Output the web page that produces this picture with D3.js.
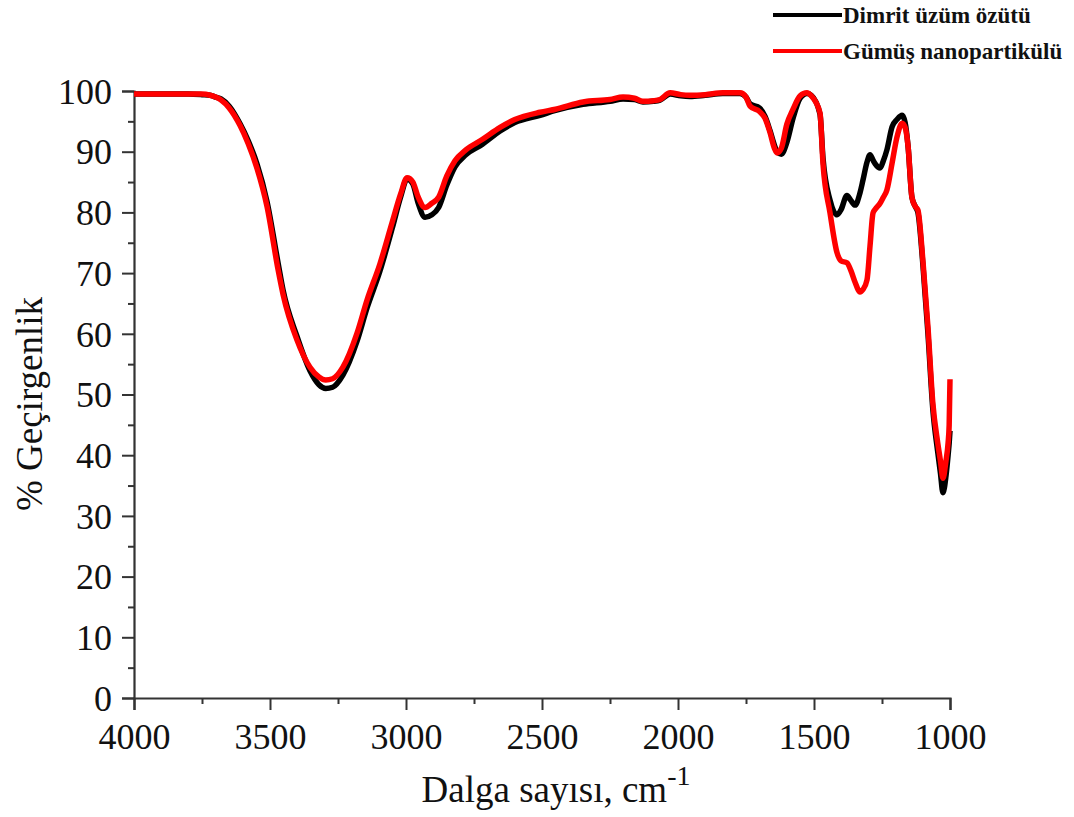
<!DOCTYPE html>
<html>
<head>
<meta charset="utf-8">
<script src="https://cdn.jsdelivr.net/npm/d3@7"></script>
<style>
  html, body { margin: 0; padding: 0; background: #fff; }
  svg { display: block; }
  text { font-family: "Liberation Serif", "Times New Roman", serif; }
</style>
</head>
<body>
<svg id="chart" width="1074" height="817"></svg>
<script>
// FTIR spectra: wavenumber (cm-1) vs. % transmittance
const wavenumbers = [
  4000, 3900, 3800, 3750, 3720, 3700, 3680, 3650, 3610, 3580, 3548, 3511, 3470, 3452,
  3401, 3353, 3320, 3295, 3270, 3232, 3180, 3143, 3096, 3050, 3020, 2996, 2975, 2955,
  2930, 2905, 2880, 2850, 2820, 2780, 2720, 2654, 2600, 2507, 2450, 2349, 2250, 2202,
  2160, 2129, 2090, 2066, 2029, 1990, 1956, 1900, 1835, 1772, 1750, 1735, 1700, 1680,
  1662, 1645, 1636, 1620, 1600, 1577, 1551, 1526, 1510, 1478, 1467, 1441, 1415, 1400,
  1379, 1365, 1349, 1331, 1320, 1305, 1294, 1283, 1275, 1257, 1245, 1232, 1213, 1195,
  1176, 1165, 1154, 1140, 1128, 1118, 1099, 1081, 1063, 1045, 1035, 1026, 1015, 1007,
  1003, 1000
];

const dimritValues = [
  99.5, 99.5, 99.5, 99.4, 99.3, 99.0, 98.7, 97.5, 94.6, 91.8, 88.0, 81.8, 71.6, 67.2,
  59.6, 53.9, 51.6, 51.0, 51.2, 53.2, 58.8, 64.3, 70.3, 77.5, 82.5, 85.5, 84.7, 81.5,
  79.2, 79.6, 80.8, 84.5, 87.5, 89.5, 91.2, 93.4, 94.8, 96.0, 96.8, 97.8, 98.3, 98.7,
  98.6, 98.2, 98.3, 98.5, 99.5, 99.2, 99.1, 99.3, 99.6, 99.6, 99.0, 97.9, 97.2, 95.8,
  93.5, 91.0, 90.0, 89.6, 91.5, 95.5, 98.8, 99.6, 99.3, 96.2, 89.0, 82.0, 79.6, 80.5,
  82.8, 82.0, 81.2, 83.2, 85.3, 88.3, 89.5, 88.6, 88.0, 87.3, 88.5, 90.3, 94.1, 95.3,
  96.0, 94.8, 90.8, 82.5, 81.0, 80.0, 71.0, 60.0, 47.5, 40.5, 37.0, 33.8, 36.5, 40.0,
  42.0, 44.0
];

const gumusValues = [
  99.5, 99.5, 99.5, 99.5, 99.3, 99.0, 98.5, 97.2, 94.3, 91.3, 87.3, 81.0, 70.5, 66.5,
  59.0, 54.5, 52.9, 52.4, 52.6, 54.5, 60.1, 65.6, 71.5, 78.5, 83.0, 85.7, 85.0, 82.5,
  80.8, 81.5, 82.5, 86.0, 88.5, 90.3, 92.0, 94.0, 95.3, 96.5, 97.0, 98.2, 98.6, 99.0,
  98.8, 98.3, 98.4, 98.6, 99.7, 99.4, 99.3, 99.4, 99.7, 99.7, 99.0, 97.5, 96.6, 95.5,
  93.2, 90.5, 89.8, 90.6, 94.5, 97.0, 99.2, 99.7, 99.2, 96.4, 88.1, 79.9, 73.3, 72.0,
  71.7, 70.5, 68.5, 66.9, 67.3, 68.9, 74.5, 79.9, 80.5, 81.5, 82.5, 83.7, 88.1, 92.4,
  94.7, 94.0, 90.8, 82.5, 81.0, 80.4, 71.7, 61.1, 48.5, 42.0, 39.0, 36.2, 39.0, 42.0,
  45.0, 52.5
];

const seriesNames = ["Dimrit üzüm özütü", "Gümüş nanopartikülü"];
const seriesColors = ["#000000", "#ff0000"];
const xTicks = [4000, 3500, 3000, 2500, 2000, 1500, 1000];
const yTicks = [0, 10, 20, 30, 40, 50, 60, 70, 80, 90, 100];

const svg = d3.select("#chart");
const plot = { left: 134, right: 950, top: 91, bottom: 698 };

const x = d3.scaleLinear().domain([4000, 1000]).range([plot.left, plot.right]);
const y = d3.scaleLinear().domain([0, 100]).range([plot.bottom, plot.top]);

// Axes
const axisColor = "#333";
const xMinor = d3.range(4000, 999, -250).filter(v => !xTicks.includes(v));
const yMinor = d3.range(5, 100, 10);

const gx = svg.append("g").attr("transform", `translate(0,${plot.bottom})`);
gx.call(d3.axisBottom(x).tickValues(xTicks).tickSize(12).tickPadding(10).tickFormat(d3.format("d")));
gx.append("g").call(d3.axisBottom(x).tickValues(xMinor).tickSize(6).tickFormat(""))
  .select(".domain").remove();

const gy = svg.append("g").attr("transform", `translate(${plot.left},0)`);
gy.call(d3.axisLeft(y).tickValues(yTicks).tickSize(12).tickPadding(10));
gy.append("g").call(d3.axisLeft(y).tickValues(yMinor).tickSize(6).tickFormat(""))
  .select(".domain").remove();

svg.selectAll(".domain").attr("stroke", axisColor).attr("stroke-width", 2.2);
svg.selectAll(".tick line").attr("stroke", axisColor).attr("stroke-width", 2);
svg.selectAll(".tick text")
  .attr("fill", "#111")
  .style("font-family", "'Liberation Serif', serif")
  .style("font-size", "36px");
gx.selectAll(".tick text").attr("dy", "0.8em");
gy.selectAll(".tick text").attr("dy", "0.34em");

// Spectra
const line = d3.line()
  .x(d => x(d[0]))
  .y(d => y(d[1]))
  .curve(d3.curveMonotoneX);

[dimritValues, gumusValues].forEach((vals, i) => {
  const pts = wavenumbers.map((w, k) => [w, vals[k]]);
  svg.append("path")
    .datum(pts)
    .attr("d", line)
    .attr("fill", "none")
    .attr("stroke", seriesColors[i])
    .attr("stroke-width", 5.5)
    .attr("stroke-linejoin", "round")
    .attr("stroke-linecap", "butt");
});

// Axis titles
svg.append("text")
  .attr("x", 556)
  .attr("y", 802)
  .attr("text-anchor", "middle")
  .attr("fill", "#111")
  .style("font-size", "37px")
  .text("Dalga sayısı, cm")
  .append("tspan")
  .attr("dy", "-0.62em")
  .style("font-size", "28px")
  .text("-1");

svg.append("text")
  .attr("transform", "translate(42,404) rotate(-90)")
  .attr("text-anchor", "middle")
  .attr("fill", "#111")
  .style("font-size", "37px")
  .text("% Geçirgenlik");

// Legend
const legend = svg.append("g");
seriesNames.forEach((name, i) => {
  const ly = 15 + i * 36;
  legend.append("line")
    .attr("x1", 773).attr("x2", 842)
    .attr("y1", ly).attr("y2", ly)
    .attr("stroke", seriesColors[i])
    .attr("stroke-width", 4);
  legend.append("text")
    .attr("x", 843)
    .attr("y", ly + 8)
    .attr("fill", "#111")
    .style("font-size", "23px")
    .style("font-weight", "bold")
    .text(name);
});
</script>
</body>
</html>
